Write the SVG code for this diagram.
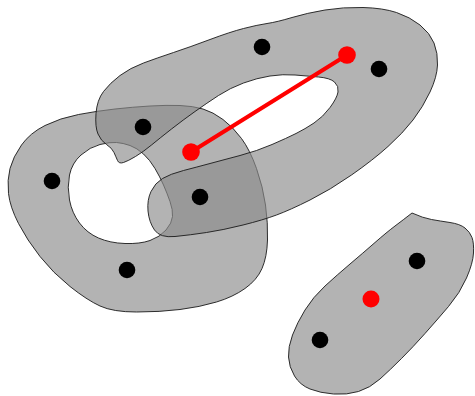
<svg xmlns="http://www.w3.org/2000/svg" width="475" height="396" viewBox="0 0 475 396">
<style>
.region{fill:#8c8c8c;fill-opacity:0.66;stroke:#1a1a1a;stroke-width:0.9;fill-rule:evenodd}
.dot{fill:#000}
.red{fill:#ff0000}
.edge{stroke:#ff0000;stroke-width:4;fill:none;stroke-linecap:round}
</style>
<rect width="475" height="396" fill="#fff"/>
<g id="regionA">
<path class="region" d="M 8.5,193.5 Q 7,180 10,168.5 Q 13,157 21.5,145 Q 30,133 45,125.5 Q 60,118 78.5,114.5 Q 97,111 115,109 Q 133,107 150,106 Q 167,105 180,105.5 Q 193,106 203,109 Q 213,112 223,119.5 Q 233,127 241.5,138.5 Q 250,150 256.5,168.5 Q 263,187 265.5,205 Q 268,223 267.5,240 Q 267,257 262,268.5 Q 257,280 245,288.5 Q 233,297 216.5,302 Q 200,307 180,309.5 Q 160,312 136.5,312 Q 113,312 100,306 Q 87,300 70,286.5 Q 53,273 40,256.5 Q 27,240 18.5,223.5 Q 10,207 8.5,193.5 Z M 116.5,142.5 Q 110,142 100,144.5 Q 90,147 81,155 Q 72,163 69.5,175 Q 67,187 69.5,200 Q 72,213 79.5,223 Q 87,233 98.5,238 Q 110,243 125,243.5 Q 140,244 150,240.5 Q 160,237 166,230 Q 172,223 172.5,216.5 Q 173,210 170,201.5 Q 167,193 163.5,185 Q 160,177 155,168.5 Q 150,160 143.5,154 Q 137,148 130,145.5 Q 123,143 116.5,142.5 Z"/>
</g>
<g id="regionB">
<path class="region" d="M 103.5,91.5 Q 97,100 96,113.5 Q 95,127 98,134 Q 101,141 106.5,144.5 Q 112,148 114,152.5 Q 116,157 117.5,160.5 Q 119,164 123.5,162.5 Q 128,161 135.5,156.5 Q 143,152 151.5,145 Q 160,138 171.5,129 Q 183,120 195,111.5 Q 207,103 218.5,95.5 Q 230,88 243.5,83 Q 257,78 270,76 Q 283,74 295,75 Q 307,76 318.5,77 Q 330,78 334.5,82 Q 339,86 338,92 Q 337,98 330,107.5 Q 323,117 314,123 Q 305,129 296,133.5 Q 287,138 272,144.5 Q 257,151 240,155.5 Q 223,160 210,163.5 Q 197,167 183.5,170.5 Q 170,174 162.5,178.5 Q 155,183 151,191.5 Q 147,200 148,211 Q 149,222 154.5,230 Q 160,238 175,236.5 Q 190,235 206.5,232.5 Q 223,230 243,225 Q 263,220 276.5,215 Q 290,210 310,200 Q 330,190 351.5,175 Q 373,160 388,146.5 Q 403,133 413,120 Q 423,107 430,92 Q 437,77 437.5,65 Q 438,53 434,43 Q 430,33 420,25 Q 410,17 396.5,12.5 Q 383,8 363,7.5 Q 343,7 325,10 Q 307,13 292,17.5 Q 277,22 267,23.5 Q 257,25 243.5,28.5 Q 230,32 210,39.5 Q 190,47 173.5,52.5 Q 157,58 143.5,63 Q 130,68 120,75.5 Q 110,83 103.5,91.5 Z"/>
</g>
<g id="regionC">
<path class="region" d="M 412,213 Q 423,218 431.5,219.5 Q 440,221 450,222.5 Q 460,224 465,228 Q 470,232 472,237.5 Q 474,243 473.5,253 Q 473,263 466.5,278 Q 460,293 448.5,306.5 Q 437,320 425,333.5 Q 413,347 401.5,358.5 Q 390,370 380,379 Q 370,388 358.5,391.5 Q 347,395 333.5,394 Q 320,393 310,389 Q 300,385 294.5,376 Q 289,367 288.5,357 Q 288,347 292.5,335 Q 297,323 305,310 Q 313,297 325,286 Q 337,275 350,264 Q 363,253 375,242.5 Q 387,232 395,226 Q 403,220 412,213 Z"/>
</g>
<g id="connectors">
<line class="edge" x1="191" y1="152" x2="347" y2="55"/>
</g>
<g id="n1"><circle class="dot" cx="262" cy="47" r="8.3"/></g>
<g id="n2"><circle class="dot" cx="379" cy="69" r="8.3"/></g>
<g id="n3"><circle class="dot" cx="143" cy="127" r="8.3"/></g>
<g id="n4"><circle class="dot" cx="52" cy="181" r="8.3"/></g>
<g id="n5"><circle class="dot" cx="200" cy="197" r="8.3"/></g>
<g id="n6"><circle class="dot" cx="127" cy="270" r="8.3"/></g>
<g id="n7"><circle class="dot" cx="417" cy="261" r="8.3"/></g>
<g id="n8"><circle class="dot" cx="320" cy="340" r="8.3"/></g>
<g id="r1"><circle class="red" cx="347" cy="55" r="8.8"/></g>
<g id="r2"><circle class="red" cx="191" cy="152" r="8.8"/></g>
<g id="r3"><circle class="red" cx="371" cy="299" r="8.5"/></g>
</svg>
